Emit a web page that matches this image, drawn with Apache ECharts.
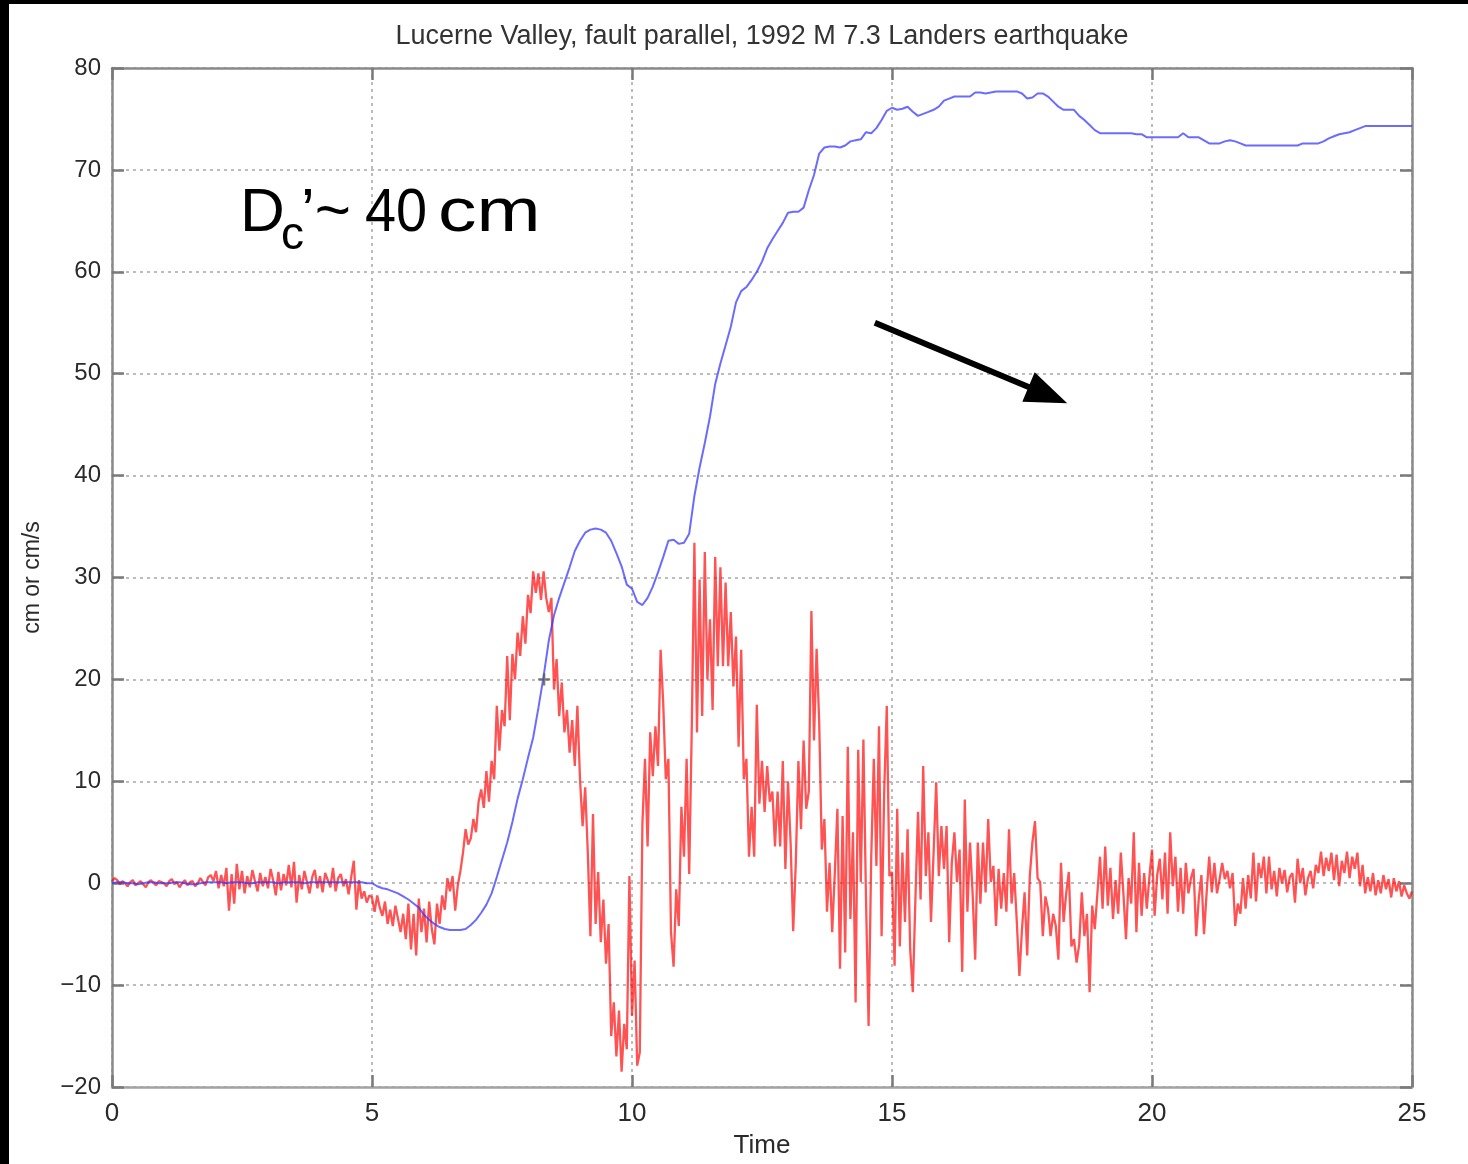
<!DOCTYPE html>
<html>
<head>
<meta charset="utf-8">
<script src="https://cdn.jsdelivr.net/npm/echarts@6/dist/echarts.min.js"></script>
<style>
  html, body { margin: 0; padding: 0; background: #000; width: 1468px; height: 1164px; overflow: hidden; }
  #chart { position: absolute; left: 9px; top: 4px; width: 1459px; height: 1160px; background: #fff; }
</style>
</head>
<body>
<div id="chart"></div>
<script>
// Lucerne Valley record, 1992 Landers earthquake: ground velocity (cm/s) and displacement (cm)
const chartTitle = 'Lucerne Valley, fault parallel, 1992 M 7.3 Landers earthquake';
const xName = 'Time';
const yName = 'cm or cm/s';
const xRange = [0, 25, 5];    // min, max, step
const yRange = [-20, 80, 10];

// velocity, sampled every 0.05 s from t = 0
const velStep = 0.05;
const velocity = [
  0.2, 0.5, 0.3, -0.1, 0.2, 0.0, -0.3, 0.1, 0.3, -0.2, 0.0, 0.2, -0.1, -0.4, 0.1, 0.3, 0.0, -0.2, 0.2, 0.1,
  0.0, -0.3, 0.2, 0.4, -0.1, 0.1, -0.4, 0.0, 0.3, -0.2, 0.1, 0.2, -0.3, 0.0, 0.5, 0.1, -0.2, 0.6, 0.8, 0.2,
  1.2, -0.5, 0.8, -0.3, 1.5, -2.7, 0.9, -2.0, 1.9, -0.6, 1.2, -1.0, 0.7, -0.4, 1.3, 0.2, -0.8, 1.0, -0.3, 0.6,
  -0.5, 1.4, 0.3, -1.2, 1.1, -0.7, 0.9, -0.2, 1.8, -0.4, 2.1, -1.9, 0.8, -0.6, 1.2, 0.1, -1.0, 0.6, 1.3, -0.5,
  0.7, -0.9, 1.0, 0.3, -0.4, 1.5, -0.8, 0.5, 0.9, -0.3, 0.4, -1.1, 0.6, 2.2, -2.6, 0.3, -1.5, -0.8, -1.9, -1.2,
  -1.4, -2.8, -1.2, -2.4, -3.2, -1.8, -4.0, -2.6, -4.2, -2.2, -3.5, -4.8, -3.0, -5.5, -2.0, -6.5, -3.0, -7.1, -1.5, -4.8,
  -2.5, -5.8, -1.8, -4.5, -6.0, -2.0, -4.0, -1.2, -2.6, 0.5, -0.8, 0.7, -2.7, -0.2, 1.2, 3.0, 5.3, 3.8, 4.4, 6.3,
  5.0, 8.0, 9.2, 7.4, 11.0, 8.0, 12.0, 10.2, 17.4, 13.0, 17.0, 15.4, 22.3, 16.0, 22.5, 20.0, 24.6, 22.3, 26.2, 23.5,
  28.3, 26.5, 30.6, 28.5, 30.4, 27.8, 30.6, 28.0, 26.6, 28.0, 19.0, 22.0, 16.4, 19.7, 14.8, 17.0, 12.8, 16.0, 11.5, 17.4,
  10.2, 5.6, 9.4, 3.0, -5.2, 6.8, -4.0, 1.1, -5.8, -1.6, -7.9, -4.0, -15.0, -11.7, -17.0, -12.5, -18.5, -13.8, -16.3, 0.7,
  -13.0, -7.6, -17.9, -16.6, 5.8, 12.2, 3.6, 14.8, 10.5, 15.4, 11.5, 22.9, 17.7, 10.2, 12.2, -4.8, -8.2, -0.6, -4.2, 7.5,
  2.6, 12.2, 0.9, 15.4, 33.4, 14.8, 29.8, 16.4, 32.5, 20.0, 25.9, 17.0, 32.0, 21.3, 31.0, 21.3, 29.5, 21.3, 26.6, 19.3,
  24.2, 13.4, 22.9, 10.2, 12.2, 2.6, 7.5, 2.6, 17.5, 7.8, 12.0, 7.0, 11.5, 8.0, 9.0, 3.6, 9.0, 3.6, 12.0, 1.4,
  10.0, 4.0, -4.7, 2.0, 12.0, 5.3, 14.0, 7.3, 9.0, 26.7, 14.0, 23.0, 15.8, 3.3, 6.3, -2.8, 2.0, -4.8, 1.0, 7.3,
  -8.4, 6.6, -6.8, 13.4, -3.5, 5.0, -11.7, 13.1, 0.1, 14.1, -1.6, -14.0, 2.4, 12.2, 1.7, 15.4, -5.2, 9.0, 17.4, 0.7,
  1.1, -8.1, 7.3, -6.2, 3.0, -3.8, 5.3, -6.5, -10.7, -1.6, 7.0, -1.6, 11.5, 0.7, 5.0, -3.8, 3.0, 9.9, 0.7, 5.6,
  1.4, 5.6, -5.8, 2.0, 5.0, 0.1, 3.3, -8.7, 8.2, -2.8, 4.0, -1.0, -7.5, 4.0, -2.0, 4.0, -0.9, 6.3, 0.1, 1.7,
  -4.2, 1.4, -2.5, 1.0, -2.8, 5.3, -2.0, 1.0, -3.8, -9.1, -4.5, -0.9, -7.1, 0.7, 4.0, 6.1, 0.5, 0.1, -5.2, -1.3,
  -2.5, -5.2, -3.0, -4.2, -7.5, 2.0, -3.8, -1.0, 1.1, -6.2, -5.5, -7.8, -6.0, -0.9, -5.2, -3.0, -10.7, -2.2, -4.5, -1.0,
  2.6, -2.5, 3.6, -2.2, 1.5, -3.5, 0.3, -3.0, 3.0, -1.0, -5.5, 0.5, -2.0, 5.0, -4.8, 2.0, -3.2, 1.0, -2.5, 0.6,
  3.3, -3.2, 0.8, 2.4, -1.6, 3.0, -3.0, 5.0, -0.3, 2.6, -2.8, 1.5, -3.0, 2.0, -1.0, 0.5, 1.4, -5.2, -1.5, 0.8,
  -5.0, -1.0, 2.6, -0.9, 2.0, -1.0, 0.4, 2.0, 0.4, 1.2, -0.5, 1.0, -4.2, -2.0, -3.0, 0.5, -2.5, 0.8, -1.5, 3.0,
  -1.8, 2.0, 0.5, 2.6, -1.0, 2.6, -0.6, 1.2, -1.3, 1.5, 0.0, 1.3, -0.9, 0.6, 1.0, -1.9, 2.4, 0.0, 1.5, -1.2,
  0.5, 1.2, -0.5, 1.8, 1.0, 3.1, 0.7, 2.5, 1.2, 3.0, 0.3, 2.8, -0.3, 2.2, 1.0, 3.1, 0.5, 2.6, 1.4, 3.0,
  -0.3, 1.8, -1.0, 0.6, -0.8, 1.0, -1.2, 0.3, -1.0, 0.8, -0.6, 0.4, -1.4, 0.5, -0.8, 0.2, -1.3, -0.2, -1.0, -1.5,
  -0.8
];

// displacement, sampled every 0.1 s from t = 0
const dispStep = 0.1;
const displacement = [
  0.0, 0.1, 0.1, 0.0, 0.0, -0.1, 0.0, 0.1, 0.1, 0.0,
  0.0, 0.0, 0.1, 0.1, 0.0, -0.1, -0.1, 0.0, 0.1, 0.1,
  0.1, 0.1, 0.0, 0.1, 0.1, 0.1, 0.0, 0.0, 0.1, 0.1,
  0.1, 0.1, 0.0, 0.1, 0.1, 0.1, 0.1, 0.0, 0.1, 0.1,
  0.1, 0.1, 0.1, 0.1, 0.1, 0.1, 0.1, 0.1, 0.1, 0.0,
  0.0, -0.3, -0.5, -0.6, -0.8, -1.0, -1.3, -1.6, -2.0, -2.4,
  -3.1, -3.6, -4.0, -4.3, -4.5, -4.6, -4.6, -4.6, -4.5, -4.1,
  -3.6, -2.9, -2.1, -1.0, 0.6, 2.3, 4.0, 6.0, 8.3, 10.2,
  12.3, 14.3, 17.2, 20.3, 23.8, 26.3, 28.0, 29.5, 31.0, 32.6,
  33.6, 34.4, 34.7, 34.8, 34.7, 34.4, 33.6, 32.4, 31.1, 29.3,
  28.9, 27.6, 27.3, 28.0, 29.1, 30.5, 32.0, 33.6, 33.7, 33.3,
  33.4, 34.3, 38.0, 40.8, 43.2, 45.8, 49.0, 51.0, 52.8, 54.6,
  57.0, 58.1, 58.5, 59.2, 60.0, 61.0, 62.3, 63.2, 64.0, 64.8,
  65.8, 65.9, 65.9, 66.3, 68.0, 69.5, 71.6, 72.2, 72.3, 72.3,
  72.2, 72.4, 72.8, 72.9, 73.0, 73.7, 73.6, 74.1, 74.9, 75.8,
  76.1, 75.9, 76.0, 76.2, 75.7, 75.3, 75.5, 75.7, 75.9, 76.2,
  76.8, 77.0, 77.2, 77.2, 77.2, 77.2, 77.6, 77.6, 77.5, 77.6,
  77.7, 77.7, 77.7, 77.7, 77.7, 77.5, 77.0, 77.1, 77.5, 77.5,
  77.2, 76.7, 76.2, 75.9, 75.9, 75.9, 75.3, 74.9, 74.4, 73.9,
  73.6, 73.6, 73.6, 73.6, 73.6, 73.6, 73.6, 73.5, 73.5, 73.2,
  73.2, 73.2, 73.2, 73.2, 73.2, 73.2, 73.6, 73.2, 73.2, 73.2,
  72.9, 72.6, 72.6, 72.6, 72.8, 72.9, 72.8, 72.6, 72.4, 72.4,
  72.4, 72.4, 72.4, 72.4, 72.4, 72.4, 72.4, 72.4, 72.4, 72.6,
  72.6, 72.6, 72.6, 72.8, 73.1, 73.3, 73.5, 73.6, 73.7, 73.9,
  74.1, 74.3, 74.3, 74.3, 74.3, 74.3, 74.3, 74.3, 74.3, 74.3,
  74.3
];

// marker where the cursor sat on the displacement trace
const crossMark = [[8.31, 20.0]];

// annotation: Dc' label and arrow (data coordinates)
const arrowFrom = [14.67, 55.0];
const arrowTo = [18.37, 47.1];

const FONT = '"Liberation Sans", Arial, Helvetica, sans-serif';
const TEXT = '#2a2a2a';

const chart = echarts.init(document.getElementById('chart'), null, { renderer: 'canvas' });

const toPairs = (arr, step) => arr.map((v, i) => [Math.round(i * step * 100) / 100, v]);

const frameLine = { show: true, onZero: false, lineStyle: { color: '#8a8a8a', width: 2.5 } };
const innerTick = { show: true, inside: true, length: 12, lineStyle: { color: '#7a7a7a', width: 2.5 } };
const gridDots = { show: true, lineStyle: { color: '#bcbcbc', width: 2, type: [3, 4] } };

chart.setOption({
  animation: false,
  backgroundColor: '#fff',
  grid: { left: 103, right: 56, top: 64, bottom: 76, containLabel: false },
  xAxis: [
    {
      type: 'value', min: xRange[0], max: xRange[1], interval: xRange[2], position: 'bottom',
      axisLine: { show: true, onZero: false, lineStyle: { color: '#a3a3a3', width: 2.5 } },
      axisTick: innerTick,
      axisLabel: { fontSize: 26, color: TEXT, fontFamily: FONT, margin: 14 },
      splitLine: gridDots,
      name: xName, nameLocation: 'middle', nameGap: 46,
      nameTextStyle: { fontSize: 26, color: TEXT, fontFamily: FONT }
    },
    {
      type: 'value', min: xRange[0], max: xRange[1], interval: xRange[2], position: 'top',
      axisLine: frameLine, axisTick: innerTick, axisLabel: { show: false }, splitLine: { show: false }
    }
  ],
  yAxis: [
    {
      type: 'value', min: yRange[0], max: yRange[1], interval: yRange[2], position: 'left',
      axisLine: frameLine, axisTick: innerTick,
      axisLabel: { fontSize: 24, color: TEXT, fontFamily: FONT, margin: 11,
                   formatter: v => (v < 0 ? '\u2212' + Math.abs(v) : String(v)) },
      splitLine: gridDots,
      name: yName, nameLocation: 'middle', nameGap: 68, nameRotate: 90,
      nameTextStyle: { fontSize: 23, color: TEXT, fontFamily: FONT }
    },
    {
      type: 'value', min: yRange[0], max: yRange[1], interval: yRange[2], position: 'right',
      axisLine: frameLine, axisTick: innerTick, axisLabel: { show: false }, splitLine: { show: false }
    }
  ],
  series: [
    {
      name: 'velocity', type: 'line', xAxisIndex: 0, yAxisIndex: 0,
      data: toPairs(velocity, velStep), showSymbol: false, symbol: 'none',
      lineStyle: { color: '#ff0000', width: 2.3, opacity: 0.68 }, z: 2
    },
    {
      name: 'displacement', type: 'line', xAxisIndex: 0, yAxisIndex: 0,
      data: toPairs(displacement, dispStep), showSymbol: false, symbol: 'none',
      lineStyle: { color: '#3a3aff', width: 2, opacity: 0.75 }, z: 3
    },
    {
      name: 'cursor', type: 'scatter', xAxisIndex: 0, yAxisIndex: 0,
      data: crossMark, symbol: 'path://M4,0h2v4h4v2h-4v4h-2v-4h-4v-2h4z', symbolSize: 12,
      itemStyle: { color: '#5a5a5a' }, z: 4
    }
  ]
});

// overlay texts and the arrow, positioned from the axes
const p0 = chart.convertToPixel({ gridIndex: 0 }, arrowFrom);
const p1 = chart.convertToPixel({ gridIndex: 0 }, arrowTo);
const dx = p1[0] - p0[0], dy = p1[1] - p0[1];
const len = Math.hypot(dx, dy);
const ux = dx / len, uy = dy / len, nx = -uy, ny = ux;
const headLen = 42, headHalf = 16;
const bx = p1[0] - ux * headLen, by = p1[1] - uy * headLen;
const plotMid = chart.convertToPixel({ xAxisIndex: 0 }, (xRange[0] + xRange[1]) / 2);

const big = '62px ' + FONT;
chart.setOption({
  graphic: [
    {
      type: 'text', x: plotMid, y: 33,
      style: { text: chartTitle, fill: '#333', font: '27px ' + FONT, textAlign: 'center', textVerticalAlign: 'middle' }
    },
    {
      type: 'text', x: 231, y: 210,
      style: { text: 'D', fill: '#000', font: big, textAlign: 'left', textVerticalAlign: 'middle' }
    },
    {
      type: 'text', x: 272, y: 232,
      style: { text: 'c', fill: '#000', font: '46px ' + FONT, textAlign: 'left', textVerticalAlign: 'middle' }
    },
    {
      type: 'text', x: 292, y: 210,
      style: { text: '\u2019~', fill: '#000', font: big, textAlign: 'left', textVerticalAlign: 'middle' }
    },
    {
      type: 'text', x: 356, y: 210, scaleX: 0.9,
      style: { text: '40', fill: '#000', font: big, textAlign: 'left', textVerticalAlign: 'middle' }
    },
    {
      type: 'text', x: 429, y: 210, scaleX: 1.24,
      style: { text: 'cm', fill: '#000', font: big, textAlign: 'left', textVerticalAlign: 'middle' }
    },
    {
      type: 'line',
      shape: { x1: p0[0], y1: p0[1], x2: bx + ux * 4, y2: by + uy * 4 },
      style: { stroke: '#000', lineWidth: 6 }
    },
    {
      type: 'polygon',
      shape: { points: [[p1[0], p1[1]], [bx + nx * headHalf, by + ny * headHalf], [bx - nx * headHalf, by - ny * headHalf]] },
      style: { fill: '#000' }
    }
  ]
});
</script>
</body>
</html>
